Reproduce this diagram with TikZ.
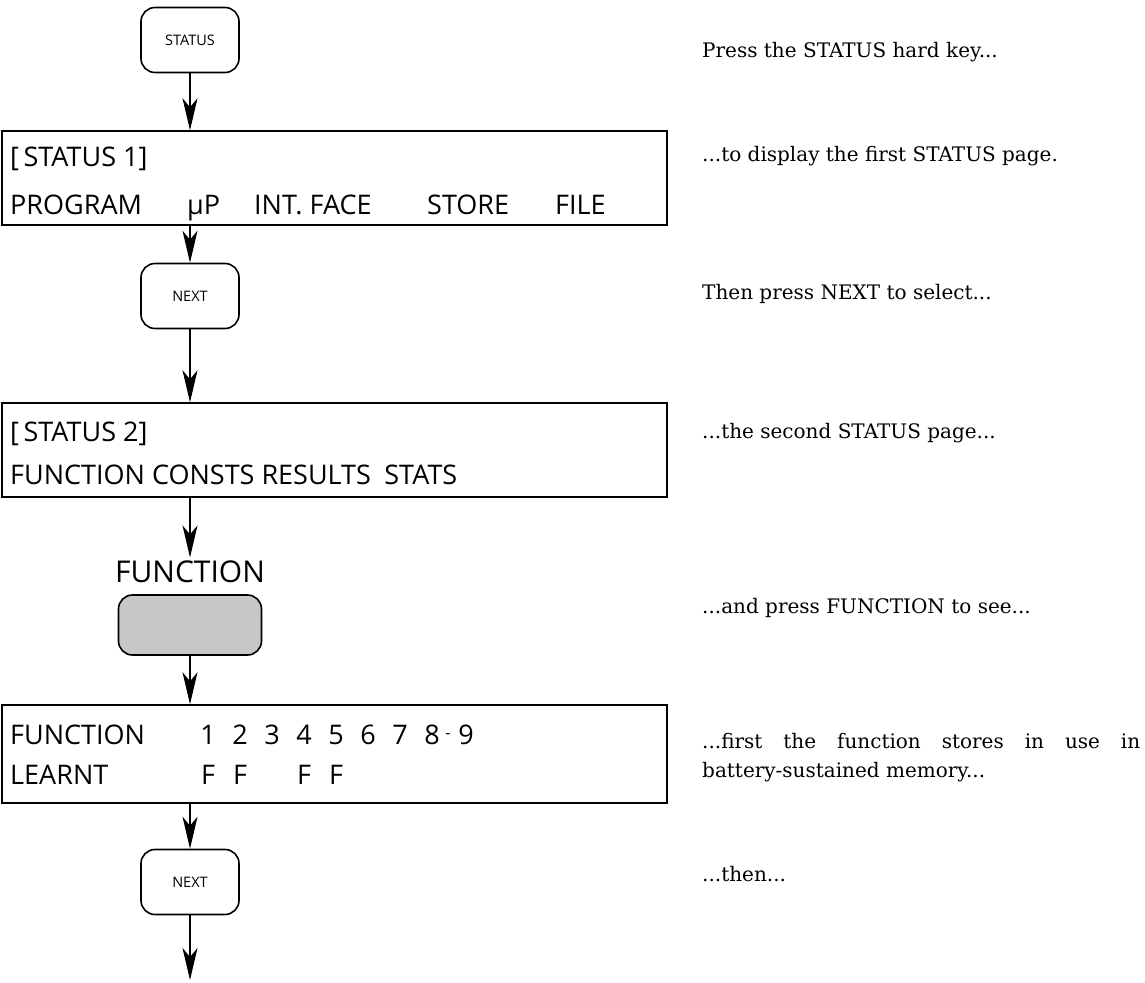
\documentclass[tikz,border=0pt]{standalone}
\usepackage{fontspec}
\setmainfont{DejaVu Serif}
\newfontfamily\lcdfamily{Open Sans}
\usetikzlibrary{arrows.meta}

\tikzset{
  hardkey/.style={draw, line width=1.6pt, rounded corners=14pt, minimum width=98pt, minimum height=65pt, inner sep=0pt, font=\lcdfamily\fontsize{14.5}{16}\selectfont},
  softkey/.style={hardkey, minimum width=143pt, minimum height=60pt, fill=black!22},
  screen/.style={draw, line width=1.5pt, minimum width=665pt, minimum height=94pt, inner sep=0pt},
  lcd/.style={anchor=base west, inner sep=0pt, font=\lcdfamily\fontsize{27}{32}\selectfont},
  digit/.style={anchor=base, inner sep=0pt, font=\lcdfamily\fontsize{27}{32}\selectfont},
  note/.style={anchor=base west, inner sep=0pt, font=\fontsize{20}{24}\selectfont},
  flow/.style={line width=1.5pt, -{Stealth[length=32pt,width=15pt,inset=9pt]}},
}

\begin{document}
\begin{tikzpicture}[x=1pt,y=-1pt]
\useasboundingbox (0,0) rectangle (1145,982);

% STATUS key and first page
\node[hardkey] (status) at (190,40) {STATUS};
\node[screen] (scr1) at (334.5,178) {};
\node[lcd] (title1) at (10,166) {[\,STATUS 1]};
\node[lcd] (prog) at (10,214) {PROGRAM};
\node[lcd] (mup) at (187,214) {µP};
\node[lcd] (iface) at (254,214) {INT. FACE};
\node[lcd] (store) at (427,214) {STORE};
\node[lcd] (file) at (555,214) {FILE};

% NEXT and second page
\node[hardkey] (next1) at (190,296) {NEXT};
\node[screen] (scr2) at (334.5,450) {};
\node[lcd] (title2) at (10,441) {[\,STATUS 2]};
\node[lcd] (keys2) at (10,484) {FUNCTION CONSTS RESULTS\enspace STATS};

% FUNCTION soft key
\node[font=\lcdfamily\fontsize{30}{36}\selectfont] (funlbl) at (190,572) {FUNCTION};
\node[softkey] (funkey) at (190,625) {};

% function stores
\node[screen, minimum height=98pt] (scr3) at (334.5,754) {};
\node[lcd] (fun) at (10,744) {FUNCTION};
\foreach \d [count=\i] in {1,...,8}
  \node[digit] (d\i) at ({208+32*(\i-1)},744) {\d};
\node[digit, font=\lcdfamily\fontsize{16}{16}\selectfont] (dash) at (448,738) {-};
\node[digit] (d9) at (466,744) {9};
\node[lcd] (learnt) at (10,784) {LEARNT};
\foreach \i in {1,2,4,5}
  \node[digit] (f\i) at (d\i.base |- 0,784) {F};

\node[hardkey] (next2) at (190,882) {NEXT};
\coordinate (more) at (190,980);

\draw[flow] (status) -- (status |- scr1.north);
\draw[flow] (scr1.south -| next1) -- (next1);
\draw[flow] (next1) -- (next1 |- scr2.north);
\draw[flow] (scr2.south -| funlbl) -- (funlbl);
\draw[flow] (funkey) -- (funkey |- scr3.north);
\draw[flow] (scr3.south -| next2) -- (next2);
\draw[flow] (next2) -- (more);

% notes on the right
\node[note] (n1) at (702,58) {Press the STATUS hard key...};
\node[note] (n2) at (702,161) {...to display the first STATUS page.};
\node[note] (n3) at (702,299) {Then press NEXT to select...};
\node[note] (n4) at (702,438) {...the second STATUS page...};
\node[note] (n5) at (702,613) {...and press FUNCTION to see...};
\node[note] (n6) at (702,748) {\makebox[438pt][s]{...first the function stores in use in}};
\node[note] (n7) at (702,777) {battery-sustained memory...};
\node[note] (n8) at (702,881) {...then...};
\end{tikzpicture}
\end{document}
